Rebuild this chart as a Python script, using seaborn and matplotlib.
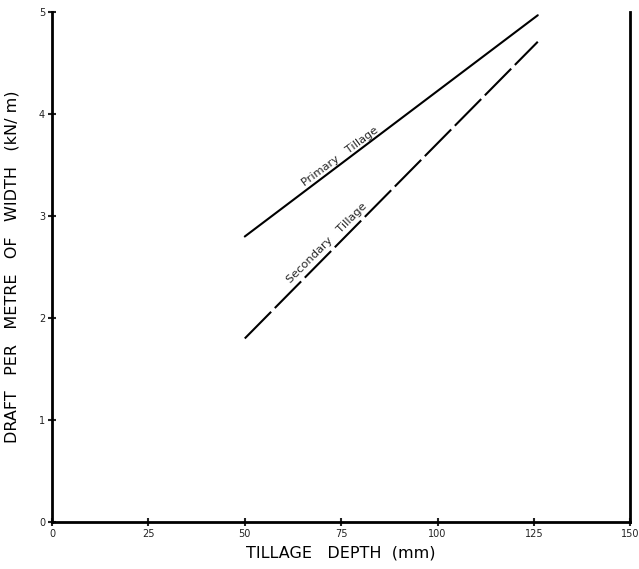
import numpy as np
import pandas as pd
import matplotlib
matplotlib.use("Agg")
import matplotlib.pyplot as plt
import seaborn as sns

# values
depth = [50, 126]
primary = [2.80, 4.97]
secondary = [1.80, 4.71]

xticks = [0, 25, 50, 75, 100, 125, 150]
yticks = [0, 1, 2, 3, 4, 5]

sns.set_style("white")
plt.rcParams['font.family'] = ['DejaVu Sans']

fig = plt.figure(figsize=(6.39, 5.69), dpi=100)
ax = fig.add_axes([0.0814, 0.0826, 0.905, 0.896])

df = pd.DataFrame({"depth": depth + depth,
                   "draft": primary + secondary,
                   "kind": ["Primary"] * 2 + ["Secondary"] * 2})

sns.lineplot(data=df[df.kind == "Primary"], x="depth", y="draft",
             color="black", linewidth=1.5, ax=ax)
sns.lineplot(data=df[df.kind == "Secondary"], x="depth", y="draft",
             color="black", linewidth=1.5, ax=ax)
ax.lines[1].set_linestyle((0, (18, 2.5)))

ax.set_xlim(0, 150)
ax.set_ylim(0, 5)
ax.set_xticks(xticks)
ax.set_yticks(yticks)
ax.tick_params(axis="both", direction="inout", length=6, width=1.5,
               labelsize=7, pad=2, colors="#222222",
               bottom=True, left=True, top=False, right=False)

for side in ["left", "bottom", "right"]:
    ax.spines[side].set_linewidth(2)
    ax.spines[side].set_color("black")
ax.spines["top"].set_visible(False)

ax.set_xlabel("TILLAGE   DEPTH  (mm)", fontsize=11.5, labelpad=5, color="black")
ax.set_ylabel("DRAFT   PER   METRE   OF   WIDTH   (kN/ m)", fontsize=11.5,
              labelpad=14, color="black")

ax.text(74.8, 3.58, "Primary   Tillage", rotation=36.5, fontsize=8.2,
        ha="center", va="center", rotation_mode="anchor")
ax.text(71.2, 2.74, "Secondary   Tillage", rotation=45, fontsize=8.2,
        ha="center", va="center", rotation_mode="anchor")

fig.savefig("out.png", dpi=100)
